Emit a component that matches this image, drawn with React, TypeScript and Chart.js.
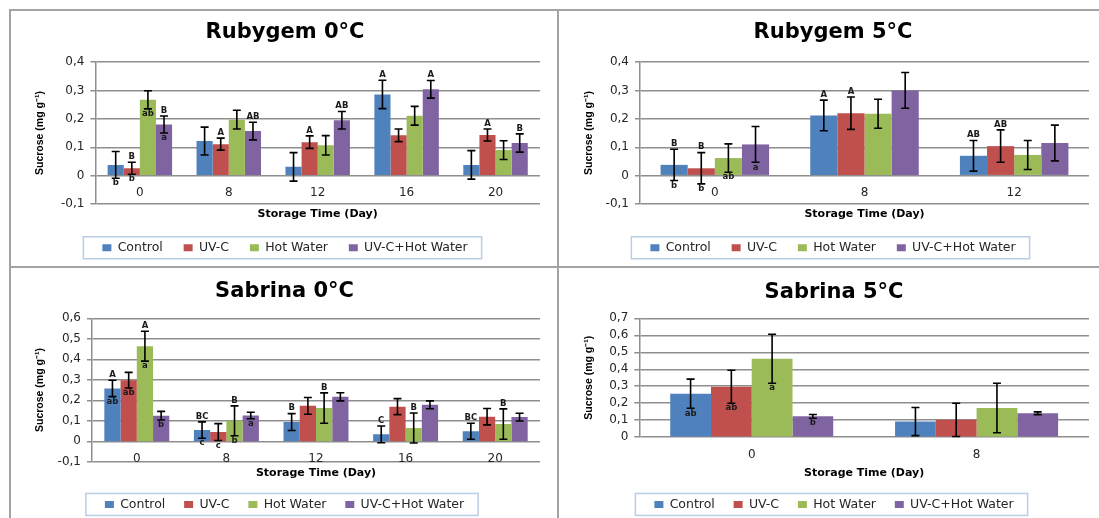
import React, { useEffect, useRef } from 'react';
import { Chart, registerables } from 'chart.js';

Chart.register(...registerables);

// ---------- shared ----------
const SERIES = ['Control', 'UV-C', 'Hot Water', 'UV-C+Hot Water'];
const COLORS = ['#4F81BD', '#C0504D', '#9BBB59', '#8064A2'];
const X_TITLE = 'Storage Time (Day)';
const Y_TITLE = 'Sucrose (mg g\u207B\u00B9)';

// ---------- Rubygem 0°C ----------
const rg0Days = ['0', '8', '12', '16', '20'];
const rg0Control = [0.038, 0.122, 0.031, 0.286, 0.038];
const rg0UVC = [0.026, 0.111, 0.118, 0.142, 0.143];
const rg0HW = [0.267, 0.197, 0.107, 0.211, 0.09];
const rg0Both = [0.18, 0.157, 0.195, 0.304, 0.115];
const rg0ErrControl = [0.047, 0.049, 0.05, 0.05, 0.05];
const rg0ErrUVC = [0.021, 0.021, 0.022, 0.022, 0.021];
const rg0ErrHW = [0.032, 0.033, 0.034, 0.033, 0.033];
const rg0ErrBoth = [0.03, 0.031, 0.031, 0.031, 0.032];
const rg0UpControl = ['', '', '', 'A', ''];
const rg0UpUVC = ['B', 'A', 'A', '', 'A'];
const rg0UpHW = ['', '', '', '', ''];
const rg0UpBoth = ['B', 'AB', 'AB', 'A', 'B'];
const rg0LoControl = ['b', '', '', '', ''];
const rg0LoUVC = ['b', '', '', '', ''];
const rg0LoHW = ['ab', '', '', '', ''];
const rg0LoBoth = ['a', '', '', '', ''];

// ---------- Rubygem 5°C ----------
const rg5Days = ['0', '8', '12'];
const rg5Control = [0.038, 0.212, 0.07];
const rg5UVC = [0.026, 0.22, 0.104];
const rg5HW = [0.062, 0.218, 0.073];
const rg5Both = [0.11, 0.3, 0.115];
const rg5ErrControl = [0.055, 0.054, 0.054];
const rg5ErrUVC = [0.055, 0.057, 0.057];
const rg5ErrHW = [0.05, 0.051, 0.051];
const rg5ErrBoth = [0.063, 0.063, 0.063];
const rg5UpControl = ['B', 'A', 'AB'];
const rg5UpUVC = ['B', 'A', 'AB'];
const rg5UpHW = ['', '', ''];
const rg5UpBoth = ['', '', ''];
const rg5LoControl = ['b', '', ''];
const rg5LoUVC = ['b', '', ''];
const rg5LoHW = ['ab', '', ''];
const rg5LoBoth = ['a', '', ''];

// ---------- Sabrina 0°C ----------
const sb0Days = ['0', '8', '12', '16', '20'];
const sb0Control = [0.258, 0.055, 0.094, 0.034, 0.049];
const sb0UVC = [0.298, 0.045, 0.173, 0.169, 0.12];
const sb0HW = [0.464, 0.1, 0.162, 0.065, 0.084];
const sb0Both = [0.125, 0.126, 0.217, 0.178, 0.118];
const sb0ErrControl = [0.04, 0.04, 0.041, 0.041, 0.039];
const sb0ErrUVC = [0.038, 0.041, 0.041, 0.039, 0.04];
const sb0ErrHW = [0.073, 0.073, 0.074, 0.073, 0.074];
const sb0ErrBoth = [0.021, 0.016, 0.02, 0.019, 0.019];
const sb0UpControl = ['A', 'BC', 'B', 'C', 'BC'];
const sb0UpUVC = ['', '', '', '', ''];
const sb0UpHW = ['A', 'B', 'B', 'B', 'B'];
const sb0UpBoth = ['', '', '', '', ''];
const sb0LoControl = ['ab', 'c', '', '', ''];
const sb0LoUVC = ['ab', 'c', '', '', ''];
const sb0LoHW = ['a', 'b', '', '', ''];
const sb0LoBoth = ['b', 'a', '', '', ''];

// ---------- Sabrina 5°C ----------
const sb5Days = ['0', '8'];
const sb5Control = [0.256, 0.092];
const sb5UVC = [0.297, 0.102];
const sb5HW = [0.462, 0.172];
const sb5Both = [0.123, 0.141];
const sb5ErrControl = [0.086, 0.083];
const sb5ErrUVC = [0.097, 0.098];
const sb5ErrHW = [0.144, 0.146];
const sb5ErrBoth = [0.011, 0.008];
const sb5UpControl = ['', ''];
const sb5UpUVC = ['', ''];
const sb5UpHW = ['', ''];
const sb5UpBoth = ['', ''];
const sb5LoControl = ['ab', ''];
const sb5LoUVC = ['ab', ''];
const sb5LoHW = ['a', ''];
const sb5LoBoth = ['b', ''];

type PanelData = {
  title: string;
  days: string[];
  values: number[][];
  errors: number[][];
  upper: string[][];
  lower: string[][];
  yMin: number;
  yMax: number;
};

const PANELS: PanelData[] = [
  {
    title: 'Rubygem 0°C', days: rg0Days,
    values: [rg0Control, rg0UVC, rg0HW, rg0Both],
    errors: [rg0ErrControl, rg0ErrUVC, rg0ErrHW, rg0ErrBoth],
    upper: [rg0UpControl, rg0UpUVC, rg0UpHW, rg0UpBoth],
    lower: [rg0LoControl, rg0LoUVC, rg0LoHW, rg0LoBoth],
    yMin: -0.1, yMax: 0.4,
  },
  {
    title: 'Rubygem 5°C', days: rg5Days,
    values: [rg5Control, rg5UVC, rg5HW, rg5Both],
    errors: [rg5ErrControl, rg5ErrUVC, rg5ErrHW, rg5ErrBoth],
    upper: [rg5UpControl, rg5UpUVC, rg5UpHW, rg5UpBoth],
    lower: [rg5LoControl, rg5LoUVC, rg5LoHW, rg5LoBoth],
    yMin: -0.1, yMax: 0.4,
  },
  {
    title: 'Sabrina 0°C', days: sb0Days,
    values: [sb0Control, sb0UVC, sb0HW, sb0Both],
    errors: [sb0ErrControl, sb0ErrUVC, sb0ErrHW, sb0ErrBoth],
    upper: [sb0UpControl, sb0UpUVC, sb0UpHW, sb0UpBoth],
    lower: [sb0LoControl, sb0LoUVC, sb0LoHW, sb0LoBoth],
    yMin: -0.1, yMax: 0.6,
  },
  {
    title: 'Sabrina 5°C', days: sb5Days,
    values: [sb5Control, sb5UVC, sb5HW, sb5Both],
    errors: [sb5ErrControl, sb5ErrUVC, sb5ErrHW, sb5ErrBoth],
    upper: [sb5UpControl, sb5UpUVC, sb5UpHW, sb5UpBoth],
    lower: [sb5LoControl, sb5LoUVC, sb5LoHW, sb5LoBoth],
    yMin: 0, yMax: 0.7,
  },
];

// ---------- layout (positions / sizes) ----------
type Box = {
  left: number; top: number; width: number; height: number;
  yWidth: number; yTitlePad: number;
  titlePadTop: number; titlePadBottom: number;
  xTitlePadTop: number; legendPad: number;
  padBottom: number; padRight: number;
};

const BOXES: Box[] = [
  { left: 30, top: 12, width: 512, height: 254, yWidth: 65.4, yTitlePad: 4, titlePadTop: 8.4, titlePadBottom: 16.4, xTitlePadTop: 3.4, legendPad: 20.8, padBottom: 2, padRight: 2 },
  { left: 577, top: 12, width: 514, height: 254, yWidth: 63, yTitlePad: 6, titlePadTop: 8.4, titlePadBottom: 16.4, xTitlePadTop: 3.4, legendPad: 20.8, padBottom: 2, padRight: 2 },
  { left: 29, top: 269, width: 513, height: 254, yWidth: 63, yTitlePad: 5, titlePadTop: 10.1, titlePadBottom: 14, xTitlePadTop: 4.4, legendPad: 18.8, padBottom: 2.3, padRight: 2 },
  { left: 579, top: 269, width: 512, height: 254, yWidth: 60.3, yTitlePad: 4, titlePadTop: 11.4, titlePadBottom: 12.7, xTitlePadTop: 29, legendPad: 18.8, padBottom: 2.3, padRight: 2 },
];

const FONT = 'DejaVu Sans';
const GRID = '#8e8e8e';
const TEXT = '#262626';

function fmtTick(v: any) {
  const n = Number(v);
  if (Math.abs(n) < 1e-9) return '0';
  return n.toFixed(1).replace('.', ',');
}

function Panel({ data, box }: { data: PanelData; box: Box }) {
  const ref = useRef<HTMLCanvasElement | null>(null);

  useEffect(() => {
    if (!ref.current) return;

    const errorBars = {
      id: 'errorBars',
      afterDatasetsDraw(chart: any) {
        const ctx = chart.ctx;
        const y = chart.scales.y;
        ctx.save();
        chart.data.datasets.forEach((ds: any, i: number) => {
          const meta = chart.getDatasetMeta(i);
          meta.data.forEach((bar: any, j: number) => {
            const v = ds.data[j];
            const e = data.errors[i][j];
            const top = y.getPixelForValue(v + e);
            const bot = y.getPixelForValue(v - e);
            ctx.strokeStyle = '#000';
            ctx.lineWidth = 1.6;
            ctx.beginPath();
            ctx.moveTo(bar.x, top);
            ctx.lineTo(bar.x, bot);
            ctx.moveTo(bar.x - 4, top);
            ctx.lineTo(bar.x + 4, top);
            ctx.moveTo(bar.x - 4, bot);
            ctx.lineTo(bar.x + 4, bot);
            ctx.stroke();
            ctx.fillStyle = '#1a1a1a';
            ctx.font = `bold 8.5px "${FONT}"`;
            ctx.textAlign = 'center';
            ctx.textBaseline = 'middle';
            const up = data.upper[i][j];
            const lo = data.lower[i][j];
            if (up) ctx.fillText(up, bar.x, top - 5.5);
            if (lo) ctx.fillText(lo, bar.x, bot + 5);
          });
        });
        ctx.restore();
      },
    };

    const legendFrame = {
      id: 'legendFrame',
      afterDraw(chart: any) {
        const hb = chart.legend && chart.legend.legendHitBoxes;
        if (!hb || !hb.length) return;
        const ctx = chart.ctx;
        const l = Math.min(...hb.map((h: any) => h.left));
        const r = Math.max(...hb.map((h: any) => h.left + h.width));
        const cy = hb[0].top + hb[0].height / 2;
        ctx.save();
        ctx.strokeStyle = '#b9cde5';
        ctx.lineWidth = 1.5;
        ctx.strokeRect(l - 19, cy - 11, r - l + 33, 22);
        ctx.restore();
      },
    };

    const chart = new Chart(ref.current, {
      type: 'bar',
      data: {
        labels: data.days,
        datasets: SERIES.map((s, i) => ({
          label: s,
          data: data.values[i],
          backgroundColor: COLORS[i],
          borderWidth: 0,
          categoryPercentage: 0.725,
          barPercentage: 1,
          xAxisID: 'x',
          yAxisID: 'y',
        })),
      },
      options: {
        responsive: false,
        animation: false,
        layout: { padding: { left: 0, right: box.padRight, top: 0, bottom: box.padBottom } },
        plugins: {
          title: {
            display: true,
            text: data.title,
            color: '#000',
            font: { family: FONT, size: 21, weight: 'bold', lineHeight: 1.2 },
            padding: { top: box.titlePadTop, bottom: box.titlePadBottom },
          },
          legend: {
            position: 'bottom',
            labels: {
              boxWidth: 9,
              boxHeight: 7,
              padding: box.legendPad,
              color: TEXT,
              font: { family: FONT, size: 12.5 },
            },
          },
          tooltip: { enabled: false },
        },
        scales: {
          x: {
            type: 'category',
            offset: true,
            grid: { display: false, drawTicks: false },
            border: { display: false },
            ticks: { display: false },
            title: {
              display: true,
              text: X_TITLE,
              color: '#000',
              font: { family: FONT, size: 11, weight: 'bold', lineHeight: 1.2 },
              padding: { top: box.xTitlePadTop, bottom: 0 },
            },
          },
          x2: {
            type: 'category',
            axis: 'x',
            position: { y: 0 },
            offset: true,
            grid: { display: false, drawTicks: false },
            border: { display: false },
            ticks: {
              color: TEXT,
              font: { family: FONT, size: 12 },
              padding: 10,
              maxRotation: 0,
              autoSkip: false,
            },
            afterFit: (s: any) => { s.height = 0; },
          },
          y: {
            type: 'linear',
            position: 'left',
            min: data.yMin,
            max: data.yMax,
            ticks: {
              stepSize: 0.1,
              autoSkip: false,
              color: TEXT,
              font: { family: FONT, size: 12 },
              padding: 6,
              callback: fmtTick,
            },
            grid: { color: GRID, lineWidth: 1.5, tickLength: 5, drawTicks: true },
            border: { display: true, color: GRID, width: 1.5 },
            title: {
              display: true,
              text: Y_TITLE,
              color: '#000',
              font: { family: 'Liberation Sans', size: 10.5, weight: 'bold', lineHeight: 1.2 },
              padding: { top: box.yTitlePad, bottom: 0 },
            },
            afterFit: (s: any) => { s.width = box.yWidth; },
          },
        },
      } as any,
      plugins: [errorBars, legendFrame],
    });

    return () => chart.destroy();
  }, [data, box]);

  return (
    <canvas
      ref={ref}
      width={box.width}
      height={box.height}
      style={{ position: 'absolute', left: box.left, top: box.top, width: box.width, height: box.height, display: 'block' }}
    />
  );
}

const LINE = '#a3a3a3';

export default function App() {
  return (
    <div style={{ position: 'absolute', left: 0, top: 0, width: 1099, height: 518, overflow: 'hidden', background: '#fff' }}>
      <div style={{ position: 'absolute', left: 9, top: 9, width: 1090, height: 2, background: LINE }} />
      <div style={{ position: 'absolute', left: 9, top: 9, width: 2, height: 509, background: LINE }} />
      <div style={{ position: 'absolute', left: 557, top: 9, width: 2, height: 509, background: LINE }} />
      <div style={{ position: 'absolute', left: 9, top: 266, width: 1090, height: 2, background: LINE }} />
      {PANELS.map((p, i) => (
        <Panel key={p.title} data={p} box={BOXES[i]} />
      ))}
    </div>
  );
}
